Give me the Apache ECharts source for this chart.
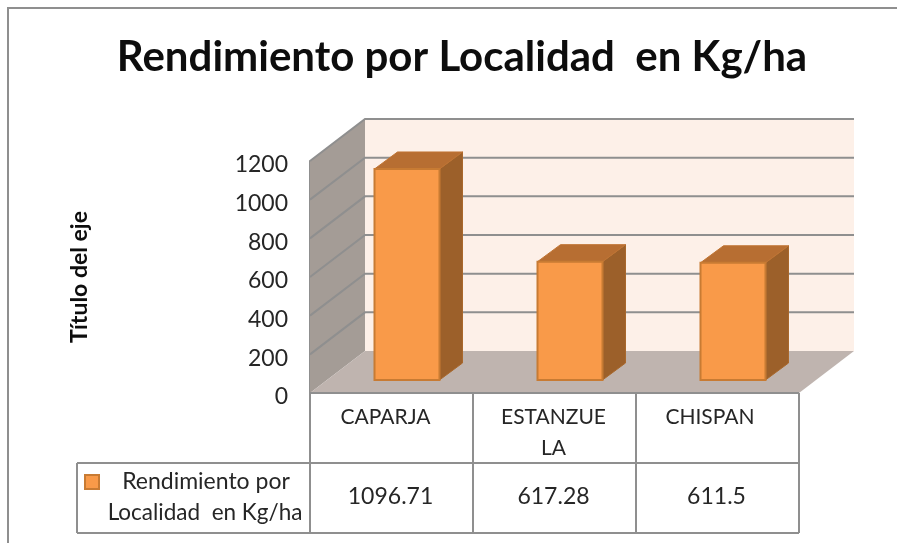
<!DOCTYPE html>
<html>
<head>
<meta charset="utf-8">
<style>
  html, body { margin: 0; padding: 0; background: #fff; }
  #chart { width: 897px; height: 543px; }
</style>
<script src="https://cdn.jsdelivr.net/npm/echarts@6/dist/echarts.min.js"></script>
</head>
<body>
<div id="chart"></div>
<script>
const TITLE = 'Rendimiento por Localidad  en Kg/ha';
const SERIES_NAME = 'Rendimiento por Localidad  en Kg/ha';
const LEGEND_LINES = ['Rendimiento por', 'Localidad  en Kg/ha'];
const AXIS_NAME = 'Título del eje';
const CATEGORIES = ['CAPARJA', 'ESTANZUE\nLA', 'CHISPAN'];
const VALUES = [1096.71, 617.28, 611.5];
const Y_TICKS = [0, 200, 400, 600, 800, 1000, 1200];

const FONT = 'Lato, "Open Sans", sans-serif';
const LINE = '#8f8f8f';
// depth of the fake 3D box
const DX = 55, DY = 42;
const BAR_DX = 23, BAR_DY = 17;
const BAR_W = 65;

const chart = echarts.init(document.getElementById('chart'), null, { renderer: 'canvas' });

function poly(points, fill, stroke, lw) {
  return {
    type: 'polygon',
    shape: { points: points },
    style: { fill: fill, stroke: stroke || null, lineWidth: lw || 0 }
  };
}

function renderWalls(params, api) {
  const cs = params.coordSys;
  const left = cs.x, right = cs.x + cs.width, bottom = cs.y + cs.height;
  const children = [];
  if (params.dataIndex === 0) {
    children.push(poly([[left + DX, cs.y - DY], [right + DX, cs.y - DY], [right + DX, bottom - DY], [left + DX, bottom - DY]], '#fdf0e8'));
    children.push(poly([[left, bottom], [left, cs.y], [left + DX, cs.y - DY], [left + DX, bottom - DY]], '#a49c96'));
    children.push(poly([[left, bottom], [right, bottom], [right + DX, bottom - DY], [left + DX, bottom - DY]], '#bfb4af'));
  }
  const y = api.coord([0, api.value(0)])[1];
  if (api.value(0) > 0) {
    children.push({
      type: 'polyline',
      shape: { points: [[left, y], [left + DX, y - DY], [right + DX, y - DY]] },
      style: { fill: null, stroke: LINE, lineWidth: 2 }
    });
  }
  return { type: 'group', children: children };
}

function renderBar(params, api) {
  const p = api.coord([api.value(0), api.value(1)]);
  const base = api.coord([api.value(0), 0]);
  const x0 = p[0] + 17 - 34, x1 = x0 + BAR_W;
  const top = p[1] - 12, bot = base[1] - 13;
  const edge = '#c87b33';
  return {
    type: 'group',
    children: [
      poly([[x1, bot], [x1, top], [x1 + BAR_DX, top - BAR_DY], [x1 + BAR_DX, bot - BAR_DY]], '#9c602a', '#a9682c', 1),
      poly([[x0, top], [x1, top], [x1 + BAR_DX, top - BAR_DY], [x0 + BAR_DX, top - BAR_DY]], '#b76e32', '#c07433', 1),
      poly([[x0, bot], [x1, bot], [x1, top], [x0, top]], '#f99a49', edge, 2)
    ]
  };
}

function renderValue(params, api) {
  const p = api.coord([api.value(0), 0]);
  return {
    type: 'text',
    style: {
      x: p[0] - 1,
      y: p[1] + 104,
      text: String(VALUES[params.dataIndex]),
      font: '23px ' + FONT,
      fill: '#262626',
      align: 'center',
      verticalAlign: 'middle'
    }
  };
}

// table lines, outer frame
function seg(x1, y1, x2, y2) {
  return {
    type: 'line',
    shape: { x1: x1, y1: y1, x2: x2, y2: y2 },
    style: { stroke: LINE, lineWidth: 2 },
    z: 5
  };
}

chart.setOption({
  animation: false,
  backgroundColor: '#fff',
  title: {
    text: TITLE,
    left: 457,
    top: 31,
    textAlign: 'center',
    textStyle: { fontFamily: FONT, fontWeight: 'bold', fontSize: 42, color: '#0d0d0d' }
  },
  grid: { left: 310, right: 98, top: 161, bottom: 150 },
  xAxis: {
    type: 'category',
    data: CATEGORIES,
    axisTick: { show: false },
    axisLine: { show: false },
    axisLabel: {
      margin: 9,
      interval: 0,
      formatter: function (v) {
        const cls = v === 'ESTANZUE\nLA' ? 'mid' : v === 'CAPARJA' ? 'first' : 'last';
        return v.split('\n').map(function (s) { return '{' + cls + '|' + s + '}'; }).join('\n');
      },
      rich: {
        first: { fontFamily: FONT, fontSize: 21, color: '#262626', lineHeight: 31, padding: [0, 12, 0, 0] },
        mid: { fontFamily: FONT, fontSize: 21, color: '#262626', lineHeight: 31, padding: [0, 2, 0, 0] },
        last: { fontFamily: FONT, fontSize: 21, color: '#262626', lineHeight: 31, padding: [0, 15, 0, 0] }
      }
    }
  },
  yAxis: {
    type: 'value',
    min: 0,
    max: 1200,
    interval: 200,
    name: AXIS_NAME,
    nameLocation: 'middle',
    nameGap: 219,
    nameTextStyle: { fontFamily: FONT, fontWeight: 'bold', fontSize: 23, color: '#0d0d0d' },
    axisLine: { show: true, lineStyle: { color: LINE, width: 2 } },
    axisTick: { show: false },
    splitLine: { show: false },
    axisLabel: {
      margin: 22,
      fontFamily: FONT,
      fontSize: 23,
      color: '#262626',
      lineHeight: 8,
      verticalAlign: 'top',
      formatter: function (v) { return String(v); }
    }
  },
  series: [
    {
      name: 'walls',
      type: 'custom',
      coordinateSystem: 'cartesian2d',
      renderItem: renderWalls,
      data: Y_TICKS.map(function (t) { return [t]; }),
      encode: { y: 0 },
      silent: true,
      clip: false,
      z: 1
    },
    {
      name: SERIES_NAME,
      type: 'custom',
      coordinateSystem: 'cartesian2d',
      renderItem: renderBar,
      data: VALUES.map(function (v, i) { return [i, v]; }),
      encode: { x: 0, y: 1 },
      clip: false,
      z: 3
    },
    {
      name: 'table',
      type: 'custom',
      coordinateSystem: 'cartesian2d',
      renderItem: renderValue,
      data: VALUES.map(function (v, i) { return [i, v]; }),
      encode: { x: 0, y: 1 },
      silent: true,
      clip: false,
      z: 4
    }
  ],
  graphic: [
    // frame
    { type: 'polyline', shape: { points: [[8, 543], [8, 8], [897, 8]] }, style: { fill: null, stroke: '#8f8f8f', lineWidth: 2 } },
    // table
    seg(310, 393, 799, 393),
    seg(77, 463, 799, 463),
    seg(77, 533, 799, 533),
    seg(77, 463, 77, 533),
    seg(310, 393, 310, 533),
    seg(473, 393, 473, 533),
    seg(636, 393, 636, 533),
    seg(799, 393, 799, 533),
    // legend cell
    { type: 'rect', shape: { x: 85, y: 475, width: 14, height: 14 }, style: { fill: '#f99a49', stroke: '#c87b33', lineWidth: 2 }, z: 5 },
    { type: 'text', style: { x: 206, y: 482, text: LEGEND_LINES[0], font: '23px ' + FONT, fill: '#262626', align: 'center', verticalAlign: 'middle' }, z: 5 },
    { type: 'text', style: { x: 205, y: 513, text: LEGEND_LINES[1], font: '22.5px ' + FONT, fill: '#262626', align: 'center', verticalAlign: 'middle' }, z: 5 }
  ]
});
</script>
</body>
</html>
